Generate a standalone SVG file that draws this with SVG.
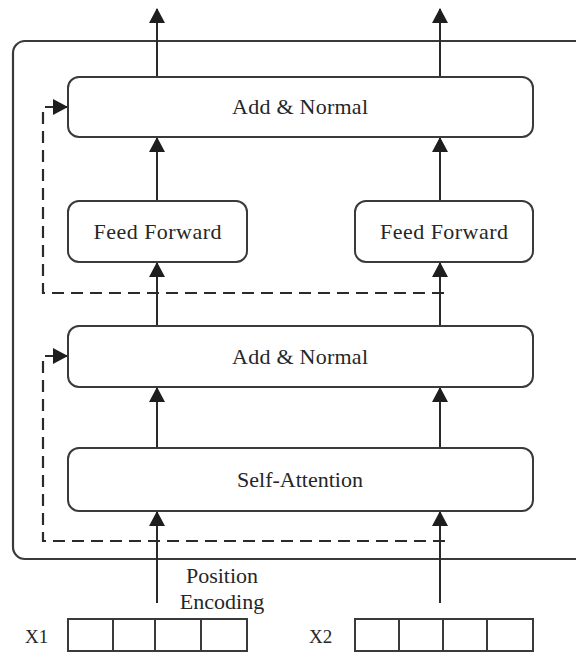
<svg xmlns="http://www.w3.org/2000/svg" width="576" height="652" viewBox="0 0 576 652">
  <defs>
    <style>
      .box { fill: #ffffff; stroke: #3a3a3a; stroke-width: 2; }
      .frame { fill: none; stroke: #3a3a3a; stroke-width: 2.2; }
      .cell { fill: #ffffff; stroke: #3a3a3a; stroke-width: 2; }
      .wire { fill: none; stroke: #2a2a2a; stroke-width: 2; }
      .dash { fill: none; stroke: #2a2a2a; stroke-width: 2.2; stroke-dasharray: 12 7; }
      .label { font-family: 'Liberation Serif', 'Times New Roman', serif; font-size: 22px; fill: #262626; text-anchor: middle; }
      .side { font-family: 'Liberation Serif', 'Times New Roman', serif; font-size: 19px; fill: #262626; }
    </style>
    <marker id="arrow" viewBox="0 0 15 16" refX="14" refY="8" markerWidth="15" markerHeight="16" orient="auto" markerUnits="userSpaceOnUse">
      <path d="M0,0 L15,8 L0,16 Z" fill="#1e1e1e"/>
    </marker>
  </defs>

  <rect width="576" height="652" fill="#ffffff"/>

  <!-- encoder block outline (runs off the right edge) -->
  <rect class="frame" x="13" y="41" width="600" height="518" rx="12"/>

  <!-- connectors -->
  <g id="connectors">
    <!-- outputs -->
    <line class="wire" x1="157" y1="77" x2="157" y2="9" marker-end="url(#arrow)"/>
    <line class="wire" x1="440" y1="77" x2="440" y2="9" marker-end="url(#arrow)"/>
    <!-- feed forward to add & normal -->
    <line class="wire" x1="157" y1="201" x2="157" y2="138" marker-end="url(#arrow)"/>
    <line class="wire" x1="440" y1="201" x2="440" y2="138" marker-end="url(#arrow)"/>
    <!-- add & normal to feed forward -->
    <line class="wire" x1="157" y1="326" x2="157" y2="263" marker-end="url(#arrow)"/>
    <line class="wire" x1="440" y1="326" x2="440" y2="263" marker-end="url(#arrow)"/>
    <!-- self-attention to add & normal -->
    <line class="wire" x1="157" y1="448" x2="157" y2="388" marker-end="url(#arrow)"/>
    <line class="wire" x1="440" y1="448" x2="440" y2="388" marker-end="url(#arrow)"/>
    <!-- inputs to self-attention -->
    <line class="wire" x1="157" y1="603" x2="157" y2="512" marker-end="url(#arrow)"/>
    <line class="wire" x1="440" y1="603" x2="440" y2="512" marker-end="url(#arrow)"/>
    <!-- residual connections -->
    <path class="dash" d="M444,293 H43 V107 H67" marker-end="url(#arrow)"/>
    <path class="dash" d="M445,541 H43 V356 H67" marker-end="url(#arrow)"/>
  </g>

  <g id="add-normal-top">
    <rect class="box" x="68" y="77" width="465" height="60" rx="11"/>
    <text class="label" x="300" y="114" textLength="136">Add &amp; Normal</text>
  </g>

  <g id="feed-forward-1">
    <rect class="box" x="68" y="201" width="179" height="61" rx="11"/>
    <text class="label" x="157.5" y="239" textLength="128">Feed Forward</text>
  </g>

  <g id="feed-forward-2">
    <rect class="box" x="355" y="201" width="178" height="61" rx="11"/>
    <text class="label" x="444" y="239" textLength="128">Feed Forward</text>
  </g>

  <g id="add-normal-bottom">
    <rect class="box" x="68" y="326" width="465" height="61" rx="11"/>
    <text class="label" x="300" y="364" textLength="136">Add &amp; Normal</text>
  </g>

  <g id="self-attention">
    <rect class="box" x="68" y="448" width="465" height="63" rx="11"/>
    <text class="label" x="300" y="487" textLength="126">Self-Attention</text>
  </g>

  <g id="position-encoding">
    <text class="label" x="222" y="583">Position</text>
    <text class="label" x="222" y="609">Encoding</text>
  </g>

  <g id="input-x1">
    <text class="side" x="25" y="643">X1</text>
    <rect class="cell" x="68" y="619" width="45" height="32"/>
    <rect class="cell" x="113" y="619" width="42" height="32"/>
    <rect class="cell" x="155" y="619" width="46" height="32"/>
    <rect class="cell" x="201" y="619" width="46" height="32"/>
  </g>

  <g id="input-x2">
    <text class="side" x="309" y="643">X2</text>
    <rect class="cell" x="355" y="619" width="44" height="32"/>
    <rect class="cell" x="399" y="619" width="44" height="32"/>
    <rect class="cell" x="443" y="619" width="44" height="32"/>
    <rect class="cell" x="487" y="619" width="46" height="32"/>
  </g>
</svg>
